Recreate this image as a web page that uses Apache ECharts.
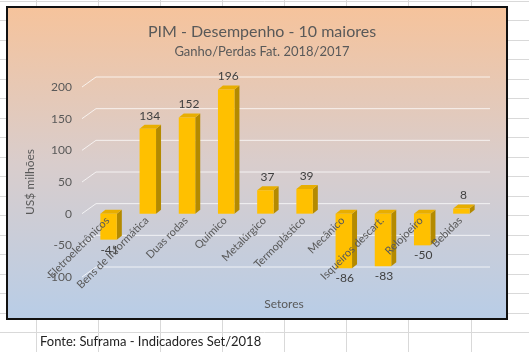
<!DOCTYPE html>
<html>
<head>
<meta charset="utf-8">
<script src="https://cdn.jsdelivr.net/npm/echarts@6/dist/echarts.min.js"></script>
<style>
  html, body { margin: 0; padding: 0; background: #fff; }
  #chart { width: 529px; height: 352px; }
</style>
</head>
<body>
<div id="chart"></div>
<script>
// dados (US$ milhões)
const categories = ['Eletroeletrônicos', 'Bens de Informática', 'Duas rodas', 'Químico', 'Metalúrgico',
  'Termoplástico', 'Mecânico', 'Isqueiros descart.', 'Relojoeiro', 'Bebidas'];
const values = [-41, 134, 152, 196, 37, 39, -86, -83, -50, 8];
const yTicks = [-100, -50, 0, 50, 100, 150, 200];

const FONT = 'Lato';
const DX = 5, DY = 4;      // profundidade do efeito 3D
const WALL = 10;           // deslocamento das linhas da parede de fundo
const GRID = { left: 88, right: 49, top: 87, bottom: 75 };
// eixo de categorias cruza no zero: 100 de 300 unidades acima da base
const ZERO_OFFSET = -(352 - GRID.top - GRID.bottom) * (100 / 300);

// linhas da planilha atrás do gráfico
const sheet = [];
[36, 98, 160, 222, 284, 346, 408, 471].forEach(x => {
  sheet.push({ type: 'line', z: -20, shape: { x1: x + 0.5, y1: 0, x2: x + 0.5, y2: 352 },
    style: { stroke: '#d9d9d9', lineWidth: 1 } });
});
for (let y = 0.5; y < 352; y += 19.5) {
  sheet.push({ type: 'line', z: -20, shape: { x1: 0, y1: Math.round(y) + 0.5, x2: 529, y2: Math.round(y) + 0.5 },
    style: { stroke: '#d9d9d9', lineWidth: 1 } });
}

function renderWall(params, api) {
  const v = api.value(0);
  const p = api.coord([0, v]);
  const band = api.size([1, 0])[0];
  const left = p[0] - band / 2;
  const y = p[1];
  return {
    type: 'polyline',
    shape: { points: [[left - 6, y], [left + 8, y - WALL], [params.coordSys.x + params.coordSys.width + 10, y - WALL]] },
    style: { stroke: 'rgba(255,255,255,0.75)', lineWidth: 1, fill: null }
  };
}

function renderBar(params, api) {
  const i = api.value(0), v = api.value(1);
  const base = api.coord([i, 0]);
  const end = api.coord([i, v]);
  const band = api.size([1, 0])[0];
  const w = band * 0.42;
  const x0 = base[0] - w / 2 + 1;
  const yHi = Math.min(base[1], end[1]);
  const yLo = Math.max(base[1], end[1]);
  const label = v >= 0
    ? { x: x0 + w / 2 + 2, y: yHi - DY - 3, verticalAlign: 'bottom' }
    : { x: x0 + w / 2 + 1, y: yLo + 4, verticalAlign: 'top' };
  return {
    type: 'group',
    children: [
      { type: 'polygon', shape: { points: [[x0 + w, yHi], [x0 + w + DX, yHi - DY], [x0 + w + DX, yLo - DY], [x0 + w, yLo]] },
        style: { fill: '#b48a00' } },
      { type: 'polygon', shape: { points: [[x0, yHi], [x0 + DX, yHi - DY], [x0 + w + DX, yHi - DY], [x0 + w, yHi]] },
        style: { fill: '#e8ae00' } },
      { type: 'rect', shape: { x: x0, y: yHi, width: w, height: yLo - yHi },
        style: { fill: '#ffc000' } },
      { type: 'text', style: { text: String(v), x: label.x, y: label.y, align: 'center',
        verticalAlign: label.verticalAlign, fill: '#404040', font: '12px ' + FONT } }
    ]
  };
}

const chart = echarts.init(document.getElementById('chart'));
chart.setOption({
  animation: false,
  graphic: sheet.concat([
    { type: 'rect', z: -10, shape: { x: 7, y: 7, width: 500, height: 312 },
      style: {
        fill: new echarts.graphic.LinearGradient(0, 0, 0, 1, [
          { offset: 0, color: '#f6c39b' },
          { offset: 0.5, color: '#d9cdcc' },
          { offset: 1, color: '#b8cde7' }
        ]),
        stroke: '#111', lineWidth: 2
      } },
    { type: 'text', z: 5, style: { text: 'Fonte: Suframa - Indicadores Set/2018', x: 40, y: 342,
      verticalAlign: 'middle', fill: '#222', font: '13px ' + FONT } }
  ]),
  title: {
    text: 'PIM - Desempenho - 10 maiores',
    subtext: 'Ganho/Perdas Fat. 2018/2017',
    left: 257, textAlign: 'center', top: 19, itemGap: 5,
    textStyle: { fontFamily: FONT, fontSize: 16, fontWeight: 'normal', color: '#595959' },
    subtextStyle: { fontFamily: FONT, fontSize: 13, color: '#595959' }
  },
  grid: Object.assign({ outerBoundsMode: 'none', containLabel: false }, GRID),
  xAxis: {
    type: 'category',
    data: categories,
    position: 'bottom',
    offset: ZERO_OFFSET,
    z: 10,
    name: 'Setores',
    nameLocation: 'middle',
    nameGap: 82,
    nameTextStyle: { fontFamily: FONT, fontSize: 12, color: '#595959' },
    axisLine: { show: false, onZero: false },
    axisTick: { show: false },
    axisLabel: { rotate: 45, margin: 5, interval: 0, fontFamily: FONT, fontSize: 11, color: '#595959' }
  },
  yAxis: {
    type: 'value',
    min: -100, max: 200, interval: 50,
    name: 'US$ milhões',
    nameLocation: 'middle',
    nameGap: 46,
    nameTextStyle: { fontFamily: FONT, fontSize: 12, color: '#595959' },
    axisLine: { show: false },
    axisTick: { show: false },
    splitLine: { show: false },
    axisLabel: { margin: 16, fontFamily: FONT, fontSize: 12, color: '#595959' }
  },
  series: [
    {
      type: 'custom',
      name: 'grade',
      z: 1,
      data: yTicks.map(t => [t]),
      encode: { y: 0 },
      renderItem: renderWall,
      silent: true
    },
    {
      type: 'custom',
      name: 'Ganho/Perda',
      z: 3,
      data: values.map((v, i) => [i, v]),
      encode: { x: 0, y: 1 },
      renderItem: renderBar
    }
  ]
});
</script>
</body>
</html>
